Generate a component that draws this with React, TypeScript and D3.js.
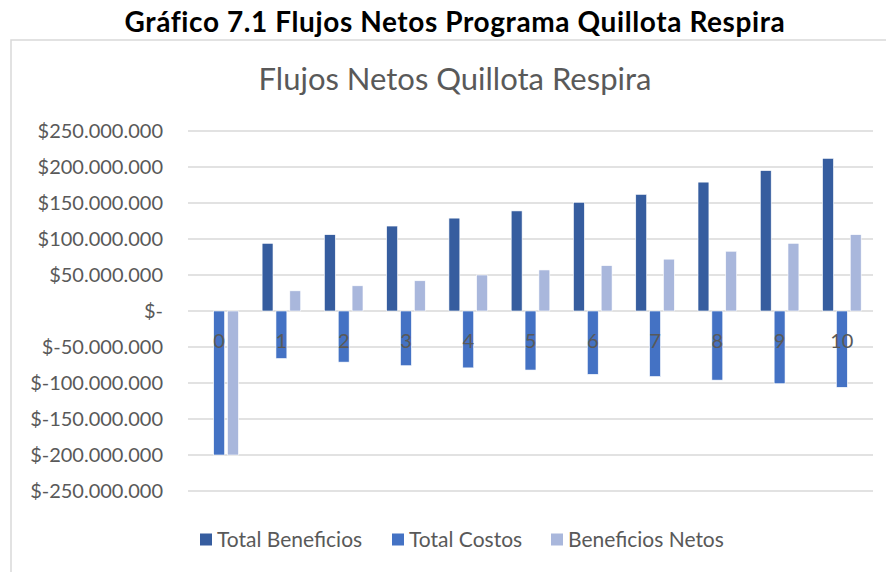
import React, { useEffect, useRef } from "react";
import * as d3 from "d3";

// data (values in CLP)
const years = ["0", "1", "2", "3", "4", "5", "6", "7", "8", "9", "10"];
const totalBeneficios = [0, 94e6, 106e6, 118e6, 129e6, 139e6, 151e6, 162e6, 179e6, 195e6, 212e6];
const totalCostos = [-200e6, -66e6, -71e6, -76e6, -79e6, -82e6, -88e6, -91e6, -96e6, -101e6, -106e6];
const beneficiosNetos = [-200e6, 28e6, 35e6, 42e6, 50e6, 57e6, 63e6, 72e6, 83e6, 94e6, 106e6];
const seriesNames = ["Total Beneficios", "Total Costos", "Beneficios Netos"];
const seriesColors = ["#365D9F", "#4472C4", "#A9B7DC"];
const yTicks = [250e6, 200e6, 150e6, 100e6, 50e6, 0, -50e6, -100e6, -150e6, -200e6, -250e6];

const W = 886;
const H = 572;

function fmt(v: number) {
  if (v === 0) return "$-";
  const s = d3.format(",")(Math.abs(v)).replace(/,/g, ".");
  return v < 0 ? "$-" + s : "$" + s;
}

export default function App() {
  const ref = useRef<SVGSVGElement | null>(null);

  useEffect(() => {
    const svg = d3.select(ref.current);
    svg.selectAll("*").remove();

    const font = "Lato, 'DejaVu Sans', sans-serif";
    const gray = "#595959";

    // big title above the chart
    svg.append("text")
      .attr("x", 455)
      .attr("y", 32)
      .attr("text-anchor", "middle")
      .style("font-family", font)
      .style("font-weight", "bold")
      .style("font-size", "28px")
      .style("letter-spacing", "0.6px")
      .attr("fill", "#000")
      .text("Gráfico 7.1 Flujos Netos Programa Quillota Respira");

    // chart area border
    svg.append("rect")
      .attr("x", 11)
      .attr("y", 40)
      .attr("width", W + 20)
      .attr("height", H)
      .attr("fill", "#fff")
      .attr("stroke", "#D9D9D9")
      .attr("stroke-width", 1.5);

    svg.append("text")
      .attr("x", 455)
      .attr("y", 90)
      .attr("text-anchor", "middle")
      .style("font-family", font)
      .style("font-size", "31px")
      .attr("fill", gray)
      .text("Flujos Netos Quillota Respira");

    const y = d3.scaleLinear().domain([-250e6, 250e6]).range([491, 131]);
    const x0 = d3.scaleBand().domain(years).range([188, 873]).paddingInner(0.38).paddingOuter(0.19);
    const x1 = d3.scaleBand().domain(seriesNames).range([0, x0.bandwidth()]).paddingInner(0.2126);

    // gridlines
    svg.append("g")
      .selectAll("line")
      .data(yTicks)
      .enter()
      .append("line")
      .attr("x1", 188)
      .attr("x2", 873)
      .attr("y1", d => y(d))
      .attr("y2", d => y(d))
      .attr("stroke", "#D9D9D9")
      .attr("stroke-width", 1.5);

    // y labels
    svg.append("g")
      .selectAll("text")
      .data(yTicks)
      .enter()
      .append("text")
      .attr("x", 163)
      .attr("y", d => y(d))
      .attr("dy", "0.35em")
      .attr("text-anchor", "end")
      .style("font-family", font)
      .style("font-size", "20px")
      .attr("fill", gray)
      .text(d => fmt(d));

    const allSeries = [totalBeneficios, totalCostos, beneficiosNetos];
    const rows = years.flatMap((yr, i) =>
      allSeries.map((vals, s) => ({ yr, s, v: vals[i] }))
    );

    svg.append("g")
      .selectAll("rect")
      .data(rows.filter(d => d.v !== 0))
      .enter()
      .append("rect")
      .attr("x", d => (x0(d.yr) ?? 0) + (x1(seriesNames[d.s]) ?? 0))
      .attr("y", d => y(Math.max(0, d.v)))
      .attr("width", x1.bandwidth())
      .attr("height", d => Math.abs(y(d.v) - y(0)))
      .attr("fill", d => seriesColors[d.s])
      .attr("stroke", "#fff")
      .attr("stroke-width", 0.6);

    // category labels (sit next to the axis, over the bars)
    svg.append("g")
      .selectAll("text")
      .data(years)
      .enter()
      .append("text")
      .attr("x", d => (x0(d) ?? 0) + x0.bandwidth() / 2)
      .attr("y", 341)
      .attr("dy", "0.35em")
      .attr("text-anchor", "middle")
      .style("font-family", font)
      .style("font-size", "20px")
      .attr("fill", gray)
      .text(d => d);

    // legend
    const legendX = [200, 392, 551];
    const lg = svg.append("g")
      .selectAll("g")
      .data(seriesNames)
      .enter()
      .append("g")
      .attr("transform", (d, i) => `translate(${legendX[i]}, 539.5)`);
    lg.append("rect")
      .attr("x", 0)
      .attr("y", -6)
      .attr("width", 12)
      .attr("height", 12)
      .attr("fill", (d, i) => seriesColors[i]);
    lg.append("text")
      .attr("x", 17)
      .attr("y", 0)
      .attr("dy", "0.35em")
      .style("font-family", font)
      .style("font-size", "21px")
      .attr("fill", gray)
      .text(d => d);
  }, []);

  return (
    <div style={{ position: "absolute", left: 0, top: 0 }}>
      <svg ref={ref} width={W} height={H} style={{ display: "block", background: "#fff" }}></svg>
    </div>
  );
}
